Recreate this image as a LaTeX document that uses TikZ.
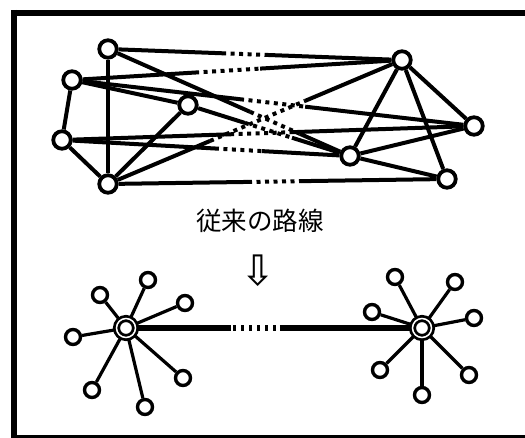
\documentclass[tikz,border=0pt]{standalone}
\usepackage{fontspec}
\newfontfamily\cjkfont{Noto Sans CJK JP}
\newfontfamily\symfont{DejaVu Sans}
\usetikzlibrary{calc,backgrounds}
\tikzset{
  vtx/.style={circle,draw=black,fill=white,line width=3.8pt,minimum size=17.5pt,inner sep=0pt},
  sat/.style={circle,draw=black,fill=white,line width=3.4pt,minimum size=15pt,inner sep=0pt},
  hub/.style={circle,draw=black,double=white,double distance=1.5pt,line width=2.8pt,fill=white,minimum size=19pt,inner sep=0pt},
  edge/.style={line width=4pt,line cap=butt},
  dotline/.style={line width=4pt,dash pattern=on 4pt off 4.5pt},
  spoke/.style={line width=3.2pt},
  trunk/.style={line width=5.5pt},
  trunkdots/.style={line width=5.5pt,dash pattern=on 3pt off 5pt},
  frameline/.style={line width=6pt},
}
\newcommand{\gapedge}[4]{%
  \draw[edge] (#1) -- ($(#1)!#3!(#2)$);
  \draw[dotline] ($(#1)!#3!(#2)$) -- ($(#1)!#4!(#2)$);
  \draw[edge] ($(#1)!#4!(#2)$) -- (#2);
}
\begin{document}
\begin{tikzpicture}[x=1pt,y=-1pt]
\useasboundingbox (0,0) rectangle (525,438);
% frame
\draw[frameline] (11,13) -- (525,13);
\draw[frameline] (14,10) -- (14,438);
\draw[line width=3pt] (11,436.5) -- (525,436.5);

% top graph nodes
\node[vtx] (A) at (108,49) {};
\node[vtx] (B) at (72,80) {};
\node[vtx] (C) at (188,105) {};
\node[vtx] (D) at (62,140) {};
\node[vtx] (E) at (108,184) {};
\node[vtx] (F) at (402,60) {};
\node[vtx] (G) at (474,126) {};
\node[vtx] (H) at (350,156) {};
\node[vtx] (I) at (447,179) {};

\begin{scope}[on background layer]
  \draw[edge] (A) -- (E);
  \draw[edge] (B) -- (D);
  \draw[edge] (D) -- (E);
  \draw[edge] (C) -- (E);
  \draw[edge] (B) -- (C);
  \draw[edge] (F) -- (G);
  \draw[edge] (F) -- (H);
  \draw[edge] (F) -- (I);
  \draw[edge] (G) -- (H);
  \draw[edge] (H) -- (I);
  \gapedge{A}{F}{0.388}{0.534}
  \gapedge{B}{F}{0.373}{0.570}
  \gapedge{A}{H}{0.587}{0.793}
  \gapedge{B}{G}{0.418}{0.580}
  \gapedge{D}{G}{0.408}{0.553}
  \gapedge{D}{H}{0.531}{0.694}
  \gapedge{E}{F}{0.347}{0.670}
  \gapedge{E}{I}{0.413}{0.572}
  \gapedge{C}{H}{0.352}{0.642}
\end{scope}

% text and arrow
\node (title) at (260,221) {\cjkfont\fontsize{25.5pt}{30pt}\selectfont 従来の路線};
\node (arrow) at (258,271) {\symfont\fontsize{42pt}{46pt}\selectfont ⇩};

% bottom stars
\node[hub] (L) at (126,328) {};
\node[hub] (R) at (422,328) {};
\node[sat] (l1) at (100,295) {};
\node[sat] (l2) at (148,280) {};
\node[sat] (l3) at (185,303) {};
\node[sat] (l4) at (73,337) {};
\node[sat] (l5) at (183,378) {};
\node[sat] (l6) at (92,390) {};
\node[sat] (l7) at (145,407) {};
\node[sat] (r1) at (395,277) {};
\node[sat] (r2) at (455,282) {};
\node[sat] (r3) at (372,312) {};
\node[sat] (r4) at (474,318) {};
\node[sat] (r5) at (380,370) {};
\node[sat] (r6) at (469,375) {};
\node[sat] (r7) at (422,395) {};
\begin{scope}[on background layer]
  \foreach \s in {l1,l2,l3,l4,l5,l6,l7} \draw[spoke] (L) -- (\s);
  \foreach \s in {r1,r2,r3,r4,r5,r6,r7} \draw[spoke] (R) -- (\s);
\end{scope}
\draw[trunk] (L) -- ($(L)!0.355!(R)$);
\draw[trunkdots] ($(L)!0.362!(R)$) -- ($(L)!0.515!(R)$);
\draw[trunk] ($(L)!0.52!(R)$) -- (R);
\end{tikzpicture}
\end{document}
